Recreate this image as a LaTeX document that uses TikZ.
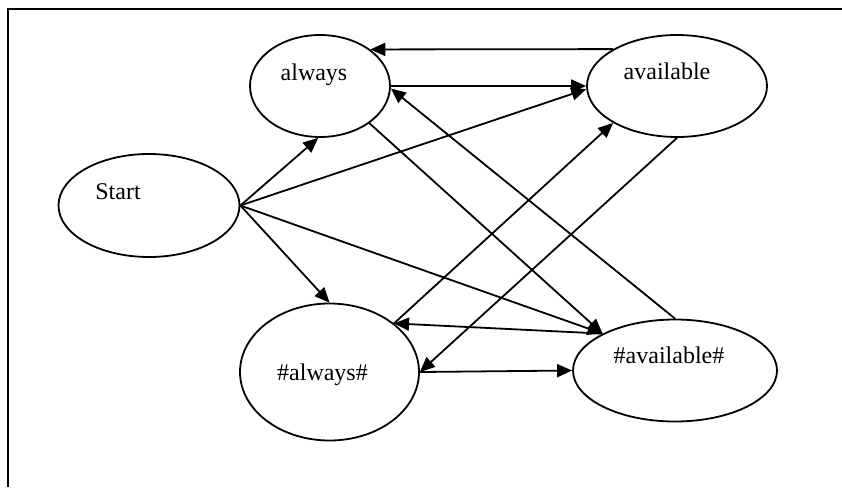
\documentclass[tikz,border=0pt]{standalone}
\usepackage{fontspec}
\setmainfont{Liberation Serif}
\usetikzlibrary{shapes.geometric,arrows.meta}
\begin{document}
\begin{tikzpicture}[x=1pt,y=-1pt,
  state/.style={ellipse,draw,line width=1.8pt,inner sep=0pt},
  lbl/.style={anchor=base,inner sep=0pt,font=\fontsize{24}{28}\selectfont},
  link/.style={line width=1.8pt,-{Triangle[length=15pt,width=13pt]}},
  frameline/.style={line width=2pt}]
\useasboundingbox (0,0) rectangle (842,487);
% outer frame (left and top edges)
\draw[frameline] (8,487) -- (8,9) -- (842,9);

% states
\node[state,minimum width=181pt,minimum height=103pt] (start)  at (149,205.5) {};
\node[state,minimum width=140pt,minimum height=102pt] (always) at (320,86) {};
\node[state,minimum width=180pt,minimum height=102pt] (avail)  at (677,86) {};
\node[state,minimum width=179pt,minimum height=137pt] (alwaysh) at (329.5,372) {};
\node[state,minimum width=204pt,minimum height=102pt] (availh)  at (675,370.5) {};

% state names
\node[lbl] (tstart)   at (118,199) {Start};
\node[lbl] (talways)  at (314,80) {always};
\node[lbl] (tavail)   at (667,79) {available};
\node[lbl] (talwaysh) at (322.5,380.5) {\#always\#};
\node[lbl] (tavailh)  at (669,363) {\#available\#};

% transitions
\draw[link] (start.east) -- (always.-92);
\draw[link] (start.east) -- (avail.182);
\draw[link] (start.east) -- (alwaysh.north);
\draw[link] (start.east) -- (availh.153);

\draw[link] (avail.150) -- (always.36);
\draw[link] (always.east) -- (avail.west);
\draw[link] (always.-37) -- (availh.153);
\draw[link] (alwaysh.37) -- (avail.210);
\draw[link] (avail.south) -- (alwaysh.east);
\draw[link] (availh.north) -- (always.-2);
\draw[link] (alwaysh.east) -- (availh.west);
\draw[link] (availh.153) -- (alwaysh.37);
\end{tikzpicture}
\end{document}
